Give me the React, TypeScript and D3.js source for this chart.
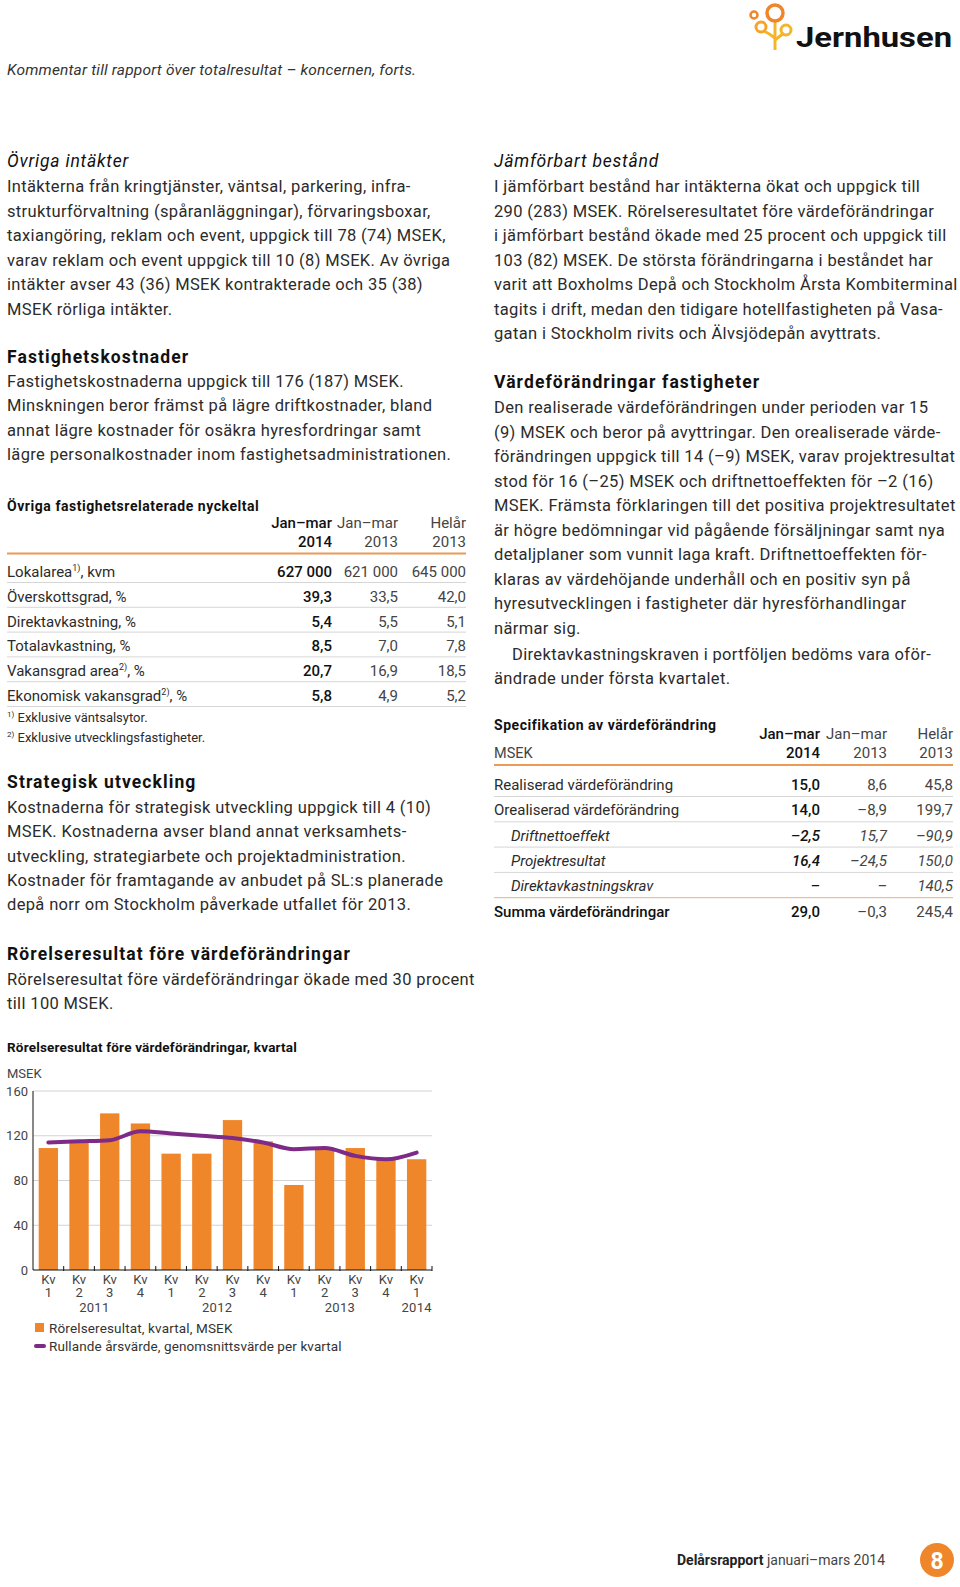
import React from "react";
import * as d3 from "d3";

// ---------- DATA ----------
const quarterLabels = ["1", "2", "3", "4", "1", "2", "3", "4", "1", "2", "3", "4", "1"];
const yearLabels = ["2011", "2012", "2013", "2014"];
const yearSpans = [[0, 3], [4, 7], [8, 11], [12, 12]];
const barValues = [109, 114, 140, 131, 104, 104, 134, 115, 76, 109, 109, 99, 99];
const lineValues = [114, 115, 116, 124, 122, 120, 118, 114, 108, 109, 102, 99, 105];
const yTicks = [0, 40, 80, 120, 160];

const leftPara1 = [
  "Intäkterna från kringtjänster, väntsal, parkering, infra-",
  "strukturförvaltning (spåranläggningar), förvaringsboxar,",
  "taxiangöring, reklam och event, uppgick till 78 (74) MSEK,",
  "varav reklam och event uppgick till 10 (8) MSEK. Av övriga",
  "intäkter avser 43 (36) MSEK kontrakterade och 35 (38)",
  "MSEK rörliga intäkter.",
];
const leftPara2 = [
  "Fastighetskostnaderna uppgick till 176 (187) MSEK.",
  "Minskningen beror främst på lägre driftkostnader, bland",
  "annat lägre kostnader för osäkra hyresfordringar samt",
  "lägre personalkostnader inom fastighetsadministrationen.",
];
const leftPara3 = [
  "Kostnaderna för strategisk utveckling uppgick till 4 (10)",
  "MSEK. Kostnaderna avser bland annat verksamhets-",
  "utveckling, strategiarbete och projektadministration.",
  "Kostnader för framtagande av anbudet på SL:s planerade",
  "depå norr om Stockholm påverkade utfallet för 2013.",
];
const leftPara4 = [
  "Rörelseresultat före värdeförändringar ökade med 30 procent",
  "till 100 MSEK.",
];
const rightPara1 = [
  "I jämförbart bestånd har intäkterna ökat och uppgick till",
  "290 (283) MSEK. Rörelseresultatet före värdeförändringar",
  "i jämförbart bestånd ökade med 25 procent och uppgick till",
  "103 (82) MSEK. De största förändringarna i beståndet har",
  "varit att Boxholms Depå och Stockholm Årsta Kombiterminal",
  "tagits i drift, medan den tidigare hotellfastigheten på Vasa-",
  "gatan i Stockholm rivits och Älvsjödepån avyttrats.",
];
const rightPara2 = [
  "Den realiserade värdeförändringen under perioden var 15",
  "(9) MSEK och beror på avyttringar. Den orealiserade värde-",
  "förändringen uppgick till 14 (–9) MSEK, varav projektresultat",
  "stod för 16 (–25) MSEK och driftnettoeffekten för –2 (16)",
  "MSEK. Främsta förklaringen till det positiva projektresultatet",
  "är högre bedömningar vid pågående försäljningar samt nya",
  "detaljplaner som vunnit laga kraft. Driftnettoeffekten för-",
  "klaras av värdehöjande underhåll och en positiv syn på",
  "hyresutvecklingen i fastigheter där hyresförhandlingar",
  "närmar sig.",
];
const rightPara3 = [
  "Direktavkastningskraven i portföljen bedöms vara oför-",
  "ändrade under första kvartalet.",
];

const t1Labels = ["Lokalarea", "Överskottsgrad, %", "Direktavkastning, %", "Totalavkastning, %", "Vakansgrad area", "Ekonomisk vakansgrad"];
const t1Sup = ["1)", "", "", "", "2)", "2)"];
const t1Suffix = [", kvm", "", "", "", ", %", ", %"];
const t1Col1 = ["627 000", "39,3", "5,4", "8,5", "20,7", "5,8"];
const t1Col2 = ["621 000", "33,5", "5,5", "7,0", "16,9", "4,9"];
const t1Col3 = ["645 000", "42,0", "5,1", "7,8", "18,5", "5,2"];

const t2Labels = ["Realiserad värdeförändring", "Orealiserad värdeförändring", "Driftnettoeffekt", "Projektresultat", "Direktavkastningskrav", "Summa värdeförändringar"];
const t2Italic = [false, false, true, true, true, false];
const t2Col1 = ["15,0", "14,0", "–2,5", "16,4", "–", "29,0"];
const t2Col2 = ["8,6", "–8,9", "15,7", "–24,5", "–", "–0,3"];
const t2Col3 = ["45,8", "199,7", "–90,9", "150,0", "140,5", "245,4"];

// ---------- STYLE ----------
const FONT = "Roboto, 'Noto Sans', sans-serif";
const ORANGE = "#f0862a";
const PURPLE = "#7e2a87";
const TEXT = "#2b2b2b";
const HEAD = "#111";
const BODY_SIZE = 16.5;
const BODY_LS = 0.35;

const Lines = ({ lines, x, y0, dy, indentFirst = 0 }: any) => (
  <g>
    {lines.map((l: string, i: number) => (
      <text key={i} x={x + (i === 0 ? indentFirst : 0)} y={y0 + i * dy} fontSize={BODY_SIZE} letterSpacing={BODY_LS} fill={TEXT}>
        {l}
      </text>
    ))}
  </g>
);

const Heading = ({ x, y, children }: any) => (
  <text x={x} y={y} fontSize={17.5} fontWeight={700} letterSpacing={1.1} fill={HEAD}>{children}</text>
);
const ItalicHeading = ({ x, y, children }: any) => (
  <text x={x} y={y} fontSize={17.5} fontStyle="italic" letterSpacing={0.8} fill={HEAD}>{children}</text>
);

function Chart() {
  const x0 = 33, x1 = 432, yTop = 1091, yBot = 1270;
  const x = d3.scaleBand<number>().domain(d3.range(barValues.length)).range([x0, x1]).paddingInner(0.37).paddingOuter(0.185);
  const y = d3.scaleLinear().domain([0, 160]).range([yBot, yTop]);
  const lineGen = d3.line<number>().x((_, i) => (x(i) as number) + x.bandwidth() / 2).y((d) => y(d)).curve(d3.curveMonotoneX);
  const step = x.step();
  return (
    <g fontFamily={FONT}>
      <text x={7} y={1052} fontSize={13.5} fontWeight={700} fill={HEAD} letterSpacing={0.2}>Rörelseresultat före värdeförändringar, kvartal</text>
      <text x={7} y={1078} fontSize={13} fill="#444">MSEK</text>
      {yTicks.map((t) => (
        <g key={t}>
          {t > 0 && <line x1={x0} x2={x1} y1={y(t)} y2={y(t)} stroke="#d3d3d3" strokeWidth={1} />}
          <text x={28} y={y(t) + 4.5} fontSize={13} textAnchor="end" fill="#444">{t}</text>
        </g>
      ))}
      {barValues.map((v, i) => (
        <rect key={i} x={x(i)} y={y(v)} width={x.bandwidth()} height={y(0) - y(v)} fill={ORANGE} />
      ))}
      <path d={lineGen(lineValues) as string} fill="none" stroke={PURPLE} strokeWidth={4} strokeLinecap="round" strokeLinejoin="round" />
      <line x1={x0} x2={x0} y1={yTop} y2={yBot} stroke="#111" strokeWidth={1} />
      <line x1={x0} x2={x1} y1={yBot} y2={yBot} stroke="#111" strokeWidth={1.2} />
      {d3.range(1, barValues.length + 1).map((i) => (
        <line key={i} x1={x0 + step * i} x2={x0 + step * i} y1={yBot - 4} y2={yBot + 1} stroke="#111" strokeWidth={1} />
      ))}
      {quarterLabels.map((q, i) => {
        const cx = (x(i) as number) + x.bandwidth() / 2;
        return (
          <g key={i}>
            <text x={cx} y={1284} fontSize={13} textAnchor="middle" fill="#444">Kv</text>
            <text x={cx} y={1296.5} fontSize={13} textAnchor="middle" fill="#444">{q}</text>
          </g>
        );
      })}
      {yearLabels.map((yl, k) => {
        const [a, b] = yearSpans[k];
        const cx = ((x(a) as number) + (x(b) as number) + x.bandwidth()) / 2;
        return <text key={yl} x={cx} y={1311.5} fontSize={13} letterSpacing={0.3} textAnchor="middle" fill="#444">{yl}</text>;
      })}
      <rect x={35} y={1323} width={9} height={9} fill={ORANGE} />
      <text x={49} y={1332.5} fontSize={13.5} letterSpacing={0.15} fill="#333">Rörelseresultat, kvartal, MSEK</text>
      <line x1={36} x2={44} y1={1346} y2={1346} stroke={PURPLE} strokeWidth={4} strokeLinecap="round" />
      <text x={49} y={1351} fontSize={13.5} letterSpacing={0.1} fill="#333">Rullande årsvärde, genomsnittsvärde per kvartal</text>
    </g>
  );
}

function Logo() {
  return (
    <g>
      <path d="M775,22 L775,50" stroke="#f5b52a" strokeWidth={3} fill="none" />
      <path d="M775,38 Q770,34 764,31" stroke="#f5b52a" strokeWidth={3} fill="none" />
      <path d="M775,40 Q780,36 784,33" stroke="#f5b52a" strokeWidth={3} fill="none" />
      <circle cx={775} cy={13} r={8} fill="none" stroke={ORANGE} strokeWidth={3.5} />
      <circle cx={754} cy={15} r={3.5} fill="none" stroke={ORANGE} strokeWidth={2.5} />
      <circle cx={761} cy={27} r={5} fill="none" stroke="#f5a42a" strokeWidth={3} />
      <circle cx={786} cy={30} r={5} fill="none" stroke="#f5b52a" strokeWidth={3} />
      <text x={796} y={47} fontSize={27} fontWeight={700} fill="#111" fontFamily="Roboto, sans-serif" textLength={156} lengthAdjust="spacingAndGlyphs">Jernhusen</text>
    </g>
  );
}

export default function App() {
  const L = 7, R = 494;
  return (
    <svg width={960} height={1587} style={{ position: "absolute", left: 0, top: 0, background: "#fff" }} fontFamily={FONT}>
      <rect width={960} height={1587} fill="#fff" />
      <Logo />
      <text x={L} y={75} fontSize={15.5} fontStyle="italic" letterSpacing={0.18} fill="#333">Kommentar till rapport över totalresultat – koncernen, forts.</text>

      {/* Left column */}
      <ItalicHeading x={L} y={167}>Övriga intäkter</ItalicHeading>
      <Lines lines={leftPara1} x={L} y0={192} dy={24.5} />
      <Heading x={L} y={363}>Fastighetskostnader</Heading>
      <Lines lines={leftPara2} x={L} y0={387} dy={24.4} />

      {/* Table 1 */}
      <text x={L} y={511} fontSize={14} fontWeight={700} letterSpacing={0.55} fill={HEAD}>Övriga fastighetsrelaterade nyckeltal</text>
      <text x={332} y={528} fontSize={15} fontWeight={500} textAnchor="end" fill={HEAD}>Jan–mar</text>
      <text x={332} y={547} fontSize={15} fontWeight={500} textAnchor="end" fill={HEAD}>2014</text>
      <text x={398} y={528} fontSize={15} textAnchor="end" fill="#444">Jan–mar</text>
      <text x={398} y={547} fontSize={15} textAnchor="end" fill="#444">2013</text>
      <text x={466} y={528} fontSize={15} textAnchor="end" fill="#444">Helår</text>
      <text x={466} y={547} fontSize={15} textAnchor="end" fill="#444">2013</text>
      <line x1={L} x2={466} y1={553.5} y2={553.5} stroke="#ec9a55" strokeWidth={2} />
      {t1Labels.map((lab, i) => {
        const yb = 577 + i * 24.8;
        return (
          <g key={i}>
            <text x={L} y={yb} fontSize={15} fill={TEXT}>
              {lab}
              {t1Sup[i] && <tspan fontSize={9} dy={-6}>{t1Sup[i]}</tspan>}
              {t1Sup[i] ? <tspan dy={6}>{t1Suffix[i]}</tspan> : null}
            </text>
            <text x={332} y={yb} fontSize={15} fontWeight={500} textAnchor="end" fill={HEAD}>{t1Col1[i]}</text>
            <text x={398} y={yb} fontSize={15} textAnchor="end" fill="#444">{t1Col2[i]}</text>
            <text x={466} y={yb} fontSize={15} textAnchor="end" fill="#444">{t1Col3[i]}</text>
            <line x1={L} x2={466} y1={yb + 5.5} y2={yb + 5.5} stroke="#d6d6d6" strokeWidth={1} />
          </g>
        );
      })}
      <text x={L} y={722} fontSize={13} fill={TEXT}><tspan fontSize={8} dy={-5}>1)</tspan><tspan dy={5}> Exklusive väntsalsytor.</tspan></text>
      <text x={L} y={742} fontSize={13} fill={TEXT}><tspan fontSize={8} dy={-5}>2)</tspan><tspan dy={5}> Exklusive utvecklingsfastigheter.</tspan></text>

      <Heading x={L} y={788}>Strategisk utveckling</Heading>
      <Lines lines={leftPara3} x={L} y0={813} dy={24.3} />
      <Heading x={L} y={960}>Rörelseresultat före värdeförändringar</Heading>
      <Lines lines={leftPara4} x={L} y0={985} dy={24.3} />

      <Chart />

      {/* Right column */}
      <ItalicHeading x={R} y={167}>Jämförbart bestånd</ItalicHeading>
      <Lines lines={rightPara1} x={R} y0={192} dy={24.5} />
      <Heading x={R} y={388}>Värdeförändringar fastigheter</Heading>
      <Lines lines={rightPara2} x={R} y0={413} dy={24.5} />
      <Lines lines={rightPara3} x={R} y0={659.5} dy={24} indentFirst={18} />

      {/* Table 2 */}
      <text x={R} y={730} fontSize={14} fontWeight={700} letterSpacing={0.55} fill={HEAD}>Specifikation av värdeförändring</text>
      <text x={R} y={758} fontSize={14.5} fill="#444">MSEK</text>
      <text x={820} y={738.5} fontSize={15} fontWeight={500} textAnchor="end" fill={HEAD}>Jan–mar</text>
      <text x={820} y={758} fontSize={15} fontWeight={500} textAnchor="end" fill={HEAD}>2014</text>
      <text x={887} y={738.5} fontSize={15} textAnchor="end" fill="#444">Jan–mar</text>
      <text x={887} y={758} fontSize={15} textAnchor="end" fill="#444">2013</text>
      <text x={953} y={738.5} fontSize={15} textAnchor="end" fill="#444">Helår</text>
      <text x={953} y={758} fontSize={15} textAnchor="end" fill="#444">2013</text>
      <line x1={R} x2={953} y1={765} y2={765} stroke="#ec9a55" strokeWidth={2} />
      {t2Labels.map((lab, i) => {
        const yb = 790 + i * 25.3;
        const it = t2Italic[i] ? "italic" : "normal";
        const last = i === t2Labels.length - 1;
        return (
          <g key={i}>
            <text x={t2Italic[i] ? R + 17 : R} y={yb} fontSize={15} fontStyle={it} fontWeight={last ? 500 : 400} fill={last ? HEAD : TEXT}>{lab}</text>
            <text x={820} y={yb} fontSize={15} fontStyle={it} fontWeight={500} textAnchor="end" fill={HEAD}>{t2Col1[i]}</text>
            <text x={887} y={yb} fontSize={15} fontStyle={it} textAnchor="end" fill="#444">{t2Col2[i]}</text>
            <text x={953} y={yb} fontSize={15} fontStyle={it} textAnchor="end" fill="#444">{t2Col3[i]}</text>
            {!last && <line x1={R} x2={953} y1={yb + 6.5} y2={yb + 6.5} stroke={i === 4 ? "#ecb07a" : "#d6d6d6"} strokeWidth={1} />}
          </g>
        );
      })}

      {/* Footer */}
      <text x={677} y={1565} fontSize={14} fill="#222">
        <tspan fontWeight={700}>Delårsrapport</tspan>
        <tspan fill="#444"> januari–mars 2014</tspan>
      </text>
      <circle cx={937} cy={1560} r={17} fill={ORANGE} />
      <text x={937} y={1568.5} fontSize={23} fontWeight={700} fill="#fff" textAnchor="middle">8</text>
    </svg>
  );
}
